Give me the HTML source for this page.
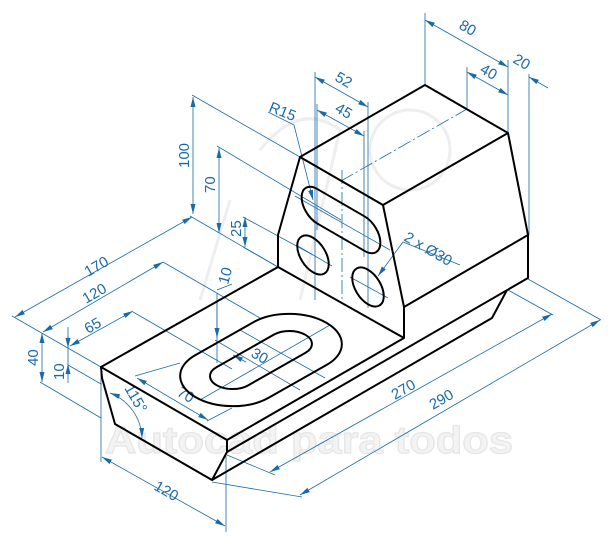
<!DOCTYPE html>
<html><head><meta charset="utf-8"><style>
html,body{margin:0;padding:0;background:#fff;}
svg{display:block;}
text{font-family:"Liberation Sans",sans-serif;}
</style></head><body>
<svg width="615" height="545" viewBox="0 0 615 545" xmlns="http://www.w3.org/2000/svg">
<defs>
<marker id="a" viewBox="0 0 10 6" refX="10" refY="3" markerWidth="10" markerHeight="6" orient="auto-start-reverse" markerUnits="userSpaceOnUse">
<path d="M0,0.5 L10,3 L0,5.5 z" fill="#1a6aa8"/></marker>
<clipPath id="cb"><g transform="matrix(1.04,-0.59,1.05,0.608,261,360)"><rect x="-63" y="-35" width="126" height="70" rx="35" ry="35"/></g></clipPath>
</defs>

<text x="105" y="453" font-size="38" font-weight="bold" fill="#f3f3f3" stroke="#e6e6e6" stroke-width="1.2" textLength="408" lengthAdjust="spacingAndGlyphs">Autocad para todos</text>
<g fill="none" stroke="#eeeeee" stroke-width="3">
<circle cx="410" cy="150" r="40"/><path d="M260 150 Q300 100 340 130 L300 300 M230 200 L200 300"/>
</g>

<g stroke="#1a6aa8" stroke-width="0.8" fill="none">
<line x1="425" y1="85" x2="425" y2="13"/>
<line x1="508" y1="133" x2="508" y2="60"/>
<line x1="529" y1="235" x2="529" y2="74"/>
<line x1="467" y1="110" x2="467" y2="67"/>
<line x1="315" y1="72" x2="315" y2="300"/>
<line x1="368" y1="102" x2="368" y2="308"/>
<line x1="317" y1="104" x2="317" y2="230"/>
<line x1="364" y1="131" x2="364" y2="257"/>
<line x1="192" y1="95" x2="300" y2="157"/>
<line x1="12" y1="316" x2="101" y2="367"/>
<line x1="190" y1="216" x2="278" y2="267"/>
<line x1="217" y1="146" x2="341" y2="220"/>
<line x1="243" y1="217" x2="313" y2="255"/>
<line x1="243" y1="247" x2="278" y2="267"/>
<line x1="40" y1="382" x2="101" y2="418"/>
<line x1="68" y1="365" x2="101" y2="384"/>
<line x1="163" y1="262" x2="260" y2="318"/>
<line x1="133" y1="312" x2="232" y2="369"/>
<line x1="101" y1="372" x2="101" y2="462"/>
<line x1="226" y1="456" x2="226" y2="532"/>
<line x1="212" y1="482" x2="302" y2="497"/>
<line x1="227" y1="455" x2="275" y2="475"/>
<line x1="528" y1="279" x2="601" y2="320"/>
<line x1="508" y1="290" x2="553" y2="315"/>
<line x1="135" y1="376" x2="180" y2="363"/>
<line x1="207" y1="421" x2="232" y2="408"/>
<line x1="217" y1="290" x2="232" y2="284"/>
<line x1="341" y1="181" x2="467" y2="109" stroke-dasharray="14,3,2,3"/>
<line x1="342" y1="170" x2="342" y2="300" stroke-dasharray="14,3,2,3"/>
<line x1="296" y1="245" x2="332" y2="266"/>
<line x1="350" y1="277" x2="388" y2="298"/>
<line x1="295" y1="196" x2="390" y2="250"/>
<line x1="200" y1="400" x2="330" y2="325"/>
<line x1="215" y1="340" x2="300" y2="390"/>
<line x1="240" y1="330" x2="325" y2="378"/>
<line x1="425" y1="20" x2="508" y2="67" marker-start="url(#a)" marker-end="url(#a)"/>
<line x1="467" y1="72" x2="508" y2="95" marker-start="url(#a)" marker-end="url(#a)"/>
<line x1="548" y1="88" x2="529" y2="77" marker-end="url(#a)"/>
<line x1="315" y1="77" x2="368" y2="107" marker-start="url(#a)" marker-end="url(#a)"/>
<line x1="317" y1="110" x2="364" y2="136" marker-start="url(#a)" marker-end="url(#a)"/>
<polyline points="268,112 294,125 313,200" marker-end="url(#a)"/>
<polyline points="460,265 403,242 378,276" marker-end="url(#a)"/>
<line x1="193" y1="97" x2="193" y2="214" marker-start="url(#a)" marker-end="url(#a)"/>
<line x1="219" y1="148" x2="219" y2="233" marker-start="url(#a)" marker-end="url(#a)"/>
<line x1="245" y1="217" x2="245" y2="247" marker-start="url(#a)" marker-end="url(#a)"/>
<line x1="15" y1="317" x2="192" y2="217" marker-start="url(#a)" marker-end="url(#a)"/>
<line x1="43" y1="332" x2="163" y2="262" marker-start="url(#a)" marker-end="url(#a)"/>
<line x1="70" y1="346" x2="133" y2="311" marker-start="url(#a)" marker-end="url(#a)"/>
<line x1="42" y1="333" x2="42" y2="382" marker-start="url(#a)" marker-end="url(#a)"/>
<line x1="68" y1="327" x2="68" y2="383"/>
<line x1="68" y1="336" x2="68" y2="348" marker-end="url(#a)"/>
<line x1="68" y1="375" x2="68" y2="364" marker-end="url(#a)"/>
<line x1="217" y1="293" x2="217" y2="363"/>
<line x1="217" y1="300" x2="217" y2="338" marker-end="url(#a)"/>
<line x1="233" y1="355" x2="246" y2="362" marker-start="url(#a)"/>
<line x1="137" y1="378" x2="208" y2="420" marker-start="url(#a)" marker-end="url(#a)"/>
<path d="M110,393 A50,50 0 0 1 142,438" marker-start="url(#a)" marker-end="url(#a)"/>
<line x1="102" y1="457" x2="225" y2="526" marker-start="url(#a)" marker-end="url(#a)"/>
<line x1="270" y1="472" x2="552" y2="314" marker-start="url(#a)" marker-end="url(#a)"/>
<line x1="300" y1="495" x2="600" y2="320" marker-start="url(#a)" marker-end="url(#a)"/>
</g>

<g fill="#1a6aa8" font-size="15">
<text transform="translate(458,28) rotate(30)">80</text>
<text transform="translate(479,72) rotate(30)">40</text>
<text transform="translate(512,62) rotate(30)">20</text>
<text transform="translate(334,80) rotate(30)">52</text>
<text transform="translate(334,111) rotate(30)">45</text>
<text transform="translate(268,111) rotate(22)">R15</text>
<text transform="translate(403,240) rotate(30)">2 x Ø30</text>
<text transform="translate(189,168) rotate(-90)">100</text>
<text transform="translate(215,193) rotate(-90)">70</text>
<text transform="translate(241,237) rotate(-90)">25</text>
<text transform="translate(88,277) rotate(-30)">170</text>
<text transform="translate(86,304) rotate(-30)">120</text>
<text transform="translate(88,334) rotate(-30)">65</text>
<text transform="translate(38,366) rotate(-90)">40</text>
<text transform="translate(64,380) rotate(-90)">10</text>
<text transform="translate(228,285) rotate(-75)">10</text>
<text transform="translate(250,356) rotate(30)">30</text>
<text transform="translate(176,395) rotate(30)">70</text>
<text transform="translate(124,388) rotate(60)">115°</text>
<text transform="translate(153,489) rotate(30)">120</text>
<text transform="translate(395,400) rotate(-30)">270</text>
<text transform="translate(433,410) rotate(-30)">290</text>
</g>

<g stroke="#000" stroke-width="2" fill="none" stroke-linejoin="round">
<polyline points="278,267 101,367 227,440 404,338 404,307 528,235 528,278 227,452 212,480 115,424 102,378 101,367"/>
<line x1="227" y1="440" x2="227" y2="452"/>
<polyline points="212,480 492,318 507,290"/>
<polyline points="278,267 278,235 300,157 425,85 508,133 528,235"/>
<polyline points="300,157 383,205 508,133"/>
<polyline points="383,205 404,307"/>
<polyline points="278,267 404,338"/>
<g transform="matrix(1.04,-0.59,1.05,0.608,261,360)"><rect x="-63" y="-35" width="126" height="70" rx="35" ry="35" vector-effect="non-scaling-stroke"/></g>
<g clip-path="url(#cb)"><g transform="translate(0,11) matrix(1.04,-0.59,1.05,0.608,261,360)"><rect x="-63" y="-35" width="126" height="70" rx="35" ry="35" vector-effect="non-scaling-stroke"/></g></g>
<g transform="matrix(1.04,-0.59,1.05,0.608,261,360)"><rect x="-42.7" y="-15" width="85.4" height="30" rx="15" ry="15" vector-effect="non-scaling-stroke"/></g>
<g transform="matrix(1.05,0.608,0,-1.15,313,255)"><circle r="15" vector-effect="non-scaling-stroke"/></g>
<g transform="matrix(1.05,0.608,0,-1.15,368,287)"><circle r="15" vector-effect="non-scaling-stroke"/></g>
<g transform="matrix(1.05,0.608,0,-1.15,341,220)"><rect x="-37.5" y="-15" width="75" height="30" rx="15" ry="15" vector-effect="non-scaling-stroke"/></g>
</g>
</svg>
</body></html>
